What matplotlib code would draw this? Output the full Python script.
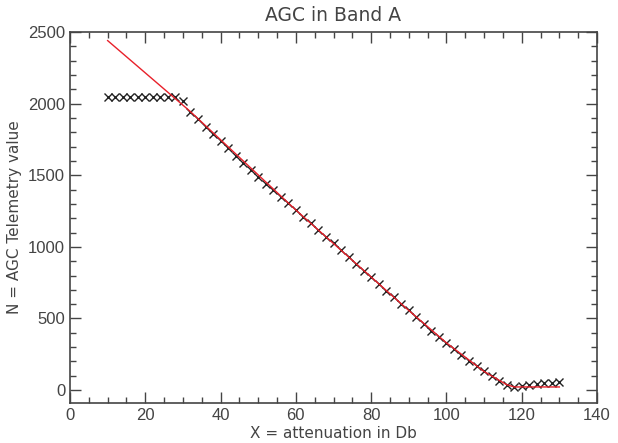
import matplotlib
matplotlib.use("Agg")
import matplotlib.pyplot as plt
import numpy as np
from matplotlib.ticker import MultipleLocator

# measured telemetry (markers)
atten = np.arange(10, 131, 2)
agc = [2045, 2045, 2045, 2045, 2045, 2045, 2045, 2045, 2045, 2045,
       2020, 1944, 1890, 1839, 1788, 1736, 1688, 1636, 1585, 1536,
       1488, 1438, 1395, 1350, 1304, 1257, 1210, 1164, 1117, 1071,
       1024, 978, 927, 880, 833, 787, 740, 693, 647, 600,
       556, 510, 461, 410, 372, 326, 284, 244, 203, 168,
       133, 98, 63, 35, 19, 28, 35, 45, 48, 50, 60]

# fitted curve (red line)
fit_x = [10, 32, 60, 90, 100, 110, 116, 118, 124, 130]
fit_y = [2440, 1944, 1257, 556, 330, 130, 38, 22, 22, 22]

grey = "#444444"
plt.rcParams['font.family'] = ['Liberation Sans', 'DejaVu Sans']

fig = plt.figure(figsize=(6.18, 4.43), dpi=100)
ax = fig.add_axes([70/618, 40/443, 527/618, 371/443])

ax.plot(atten, agc, linestyle="none", marker="x", color="#222222",
        markersize=6, markeredgewidth=1.0, zorder=3)
ax.plot(fit_x, fit_y, color="#e8202a", linewidth=1.0, zorder=4)

ax.set_xlim(0, 140)
ax.set_ylim(-90, 2500)
ax.xaxis.set_major_locator(MultipleLocator(20))
ax.xaxis.set_minor_locator(MultipleLocator(5))
ax.yaxis.set_major_locator(MultipleLocator(500))
ax.yaxis.set_minor_locator(MultipleLocator(100))

ax.tick_params(which="both", direction="in", top=True, right=True,
               color=grey, labelcolor=grey, labelsize=12)
ax.tick_params(which="major", length=8, width=1)
ax.tick_params(which="minor", length=4, width=1)
for s in ax.spines.values():
    s.set_color(grey)
    s.set_linewidth(1.2)

ax.set_title("AGC in Band A", color=grey, fontsize=13.5,
             family=['DejaVu Sans'], pad=8)
ax.set_xlabel("X = attenuation in Db", color=grey, fontsize=11,
              family=['DejaVu Sans'], labelpad=2)
ax.set_ylabel("N = AGC Telemetry value", color=grey, fontsize=11,
              family=['DejaVu Sans'], labelpad=4)

fig.savefig("out.png", dpi=100)
